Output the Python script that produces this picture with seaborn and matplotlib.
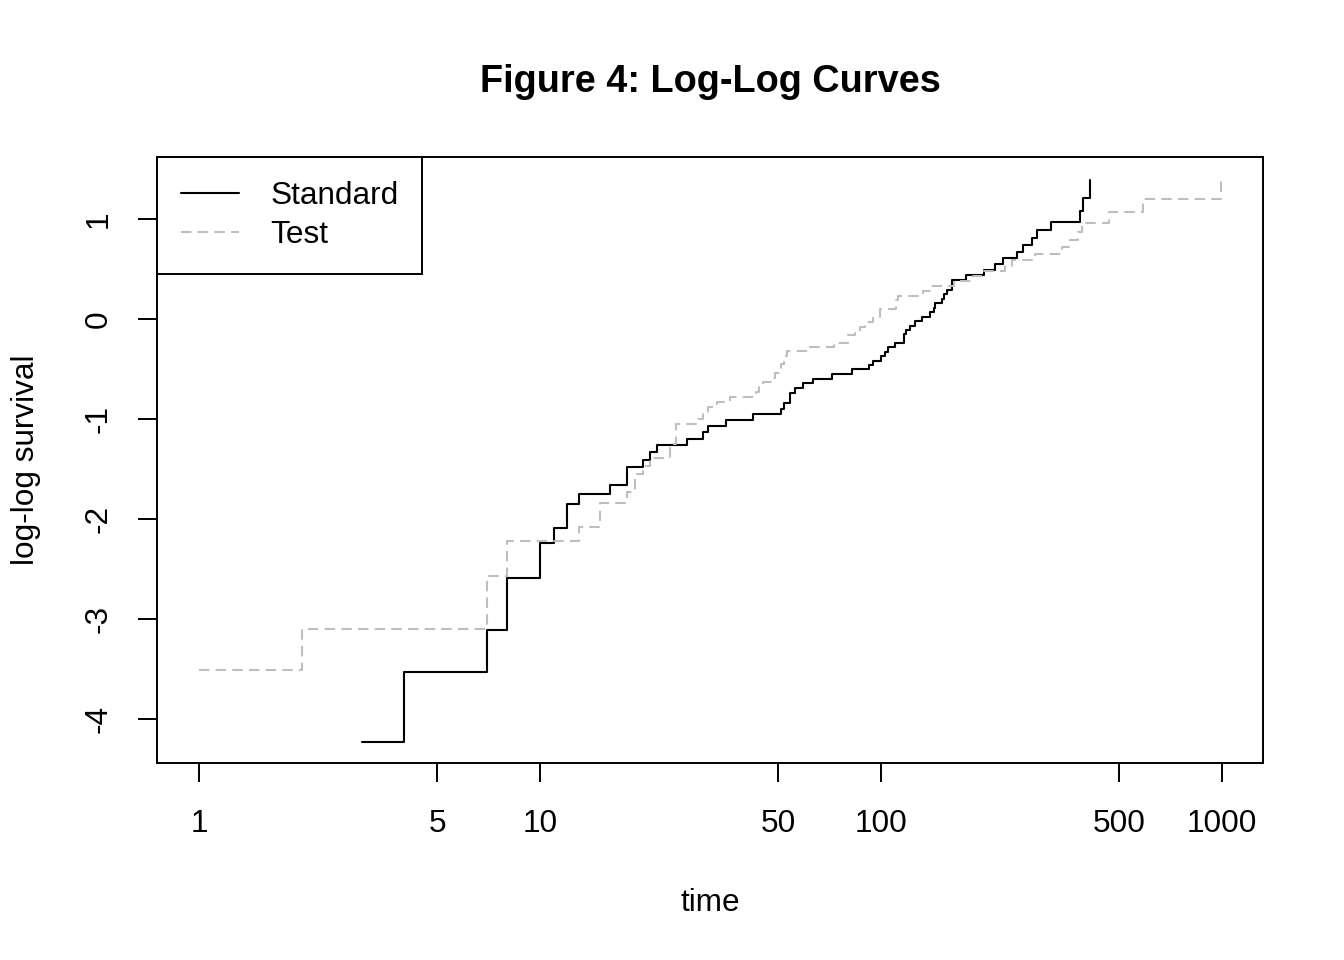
import matplotlib
matplotlib.use('Agg')
import matplotlib.pyplot as plt
from matplotlib.lines import Line2D
import seaborn as sns
import pandas as pd

# step points (time, log-log survival)
std_time = [3, 4, 7, 8, 10, 11, 12, 13, 16, 18, 20, 21, 22, 27, 30, 31, 35, 42, 51, 52,
            54, 56, 59, 63, 72, 82, 92, 95, 100, 103, 105, 110, 117, 118, 122, 126, 132, 139, 143, 144,
            151, 153, 156, 162, 177, 200, 216, 228, 250, 260, 278, 287, 314, 384, 392, 411]
std_loglog = [-4.23, -3.53, -3.11, -2.59, -2.24, -2.09, -1.85, -1.75, -1.66, -1.48,
              -1.41, -1.33, -1.26, -1.20, -1.13, -1.07, -1.01, -0.95, -0.90, -0.84,
              -0.74, -0.69, -0.64, -0.60, -0.55, -0.50, -0.46, -0.42, -0.37, -0.33,
              -0.28, -0.24, -0.15, -0.11, -0.07, -0.02, 0.02, 0.07, 0.11, 0.16,
              0.20, 0.25, 0.29, 0.39, 0.44, 0.49, 0.55, 0.61, 0.67, 0.74,
              0.81, 0.89, 0.97, 1.08, 1.21, 1.39]

test_time = [1, 2, 7, 8, 13, 15, 18, 19, 20, 21, 24, 25, 29, 30, 31, 33, 36, 43, 44, 45,
             48, 49, 51, 52, 53, 61, 73, 80, 84, 87, 90, 95, 99, 111, 112, 133, 140, 164, 186, 201,
             231, 242, 283, 340, 357, 378, 389, 467, 587, 991]
test_loglog = [-3.51, -3.10, -2.57, -2.22, -2.08, -1.84, -1.73, -1.55, -1.47, -1.39,
               -1.25, -1.05, -1.00, -0.94, -0.88, -0.83, -0.78, -0.73, -0.68, -0.63,
               -0.59, -0.54, -0.45, -0.37, -0.32, -0.28, -0.24, -0.16, -0.12, -0.08,
               -0.03, 0.01, 0.10, 0.19, 0.23, 0.28, 0.33, 0.38, 0.43, 0.48,
               0.53, 0.59, 0.65, 0.72, 0.79, 0.87, 0.96, 1.07, 1.20, 1.39]

x_ticks = [1, 5, 10, 50, 100, 500, 1000]
y_ticks = [-4, -3, -2, -1, 0, 1]

df = pd.concat([
    pd.DataFrame({'time': std_time, 'loglog': std_loglog, 'group': 'Standard'}),
    pd.DataFrame({'time': test_time, 'loglog': test_loglog, 'group': 'Test'}),
])

sns.set_style('ticks')
plt.rcParams['font.family'] = ['Liberation Sans', 'DejaVu Sans']
plt.rcParams['font.size'] = 22.7
plt.rcParams['text.color'] = 'black'
plt.rcParams['axes.labelcolor'] = 'black'
plt.rcParams['xtick.color'] = 'black'
plt.rcParams['ytick.color'] = 'black'
plt.rcParams['xtick.labelcolor'] = 'black'
plt.rcParams['ytick.labelcolor'] = 'black'

fig = plt.figure(figsize=(13.44, 9.6), dpi=100)
ax = fig.add_axes([157 / 1344, 197 / 960, 1106 / 1344, 606 / 960])
ax.set_xscale('log')

colors = {'Standard': 'black', 'Test': '#BEBEBE'}
dash = {'Standard': '', 'Test': (5, 3)}
sns.lineplot(data=df, x='time', y='loglog', hue='group', style='group',
             palette=colors, dashes=dash, drawstyle='steps-post',
             estimator=None, sort=False, linewidth=1.5, legend=False, ax=ax)

ax.set_xlim(10 ** -0.123, 10 ** 3.12)
ax.set_ylim(-4.44, 1.62)
ax.set_xticks(x_ticks)
ax.set_xticklabels([str(t) for t in x_ticks])
ax.xaxis.set_minor_locator(matplotlib.ticker.NullLocator())
ax.set_yticks(y_ticks)
ax.set_yticklabels([str(t) for t in y_ticks], rotation=90, va='center')
ax.tick_params(axis='both', length=14, width=1.4, labelsize=22.7, color='black', labelcolor='black')
ax.tick_params(axis='x', pad=19)
ax.tick_params(axis='y', pad=17)
for s in ax.spines.values():
    s.set_linewidth(1.4)
    s.set_color('black')

ax.set_xlabel('time', fontsize=22.7, color='black')
ax.set_ylabel('log-log survival', fontsize=22.7, color='black')
ax.xaxis.set_label_coords(0.5, -0.207)
ax.yaxis.set_label_coords(-0.105, 0.5)
ax.set_title('Figure 4: Log-Log Curves', fontsize=27.3, fontweight='bold', pad=47, color='black')

handles = [Line2D([], [], color='black', lw=1.5),
           Line2D([], [], color='#BEBEBE', lw=1.5, dashes=(5, 3))]
leg = ax.legend(handles, ['Standard', 'Test'], loc='upper left', bbox_to_anchor=(0, 1),
                borderaxespad=0, fancybox=False, framealpha=1, edgecolor='black',
                handlelength=1.84, handletextpad=1.0, borderpad=0.75, labelspacing=0.3,
                fontsize=22.7)
leg.get_frame().set_linewidth(1.4)
for t in leg.get_texts():
    t.set_color('black')

fig.savefig('out.png', dpi=100)
